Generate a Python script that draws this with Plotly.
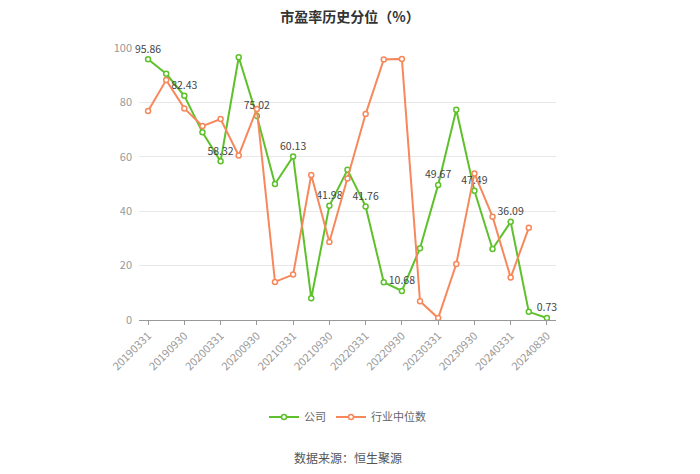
import plotly.graph_objects as go

dates = ["20190331","20190630","20190930","20191231","20200331","20200630","20200930","20201231",
         "20210331","20210630","20210930","20211231","20220331","20220630","20220930","20221231",
         "20230331","20230630","20230930","20231231","20240331","20240630","20240830"]
company = [95.86, 90.5, 82.43, 69.0, 58.32, 96.6, 75.02, 50.0, 60.13, 8.0, 41.98, 55.2, 41.76,
           13.9, 10.68, 26.4, 49.67, 77.3, 47.49, 26.1, 36.09, 3.0, 0.73]
industry = [76.8, 88.2, 77.8, 71.3, 73.9, 60.5, 77.6, 14.0, 16.7, 53.3, 28.7, 52.0, 75.7,
            95.8, 96.0, 6.9, 0.7, 20.6, 53.9, 38.0, 15.6, 33.9, None]
label_idx = list(range(0, 23, 2))
tick_labels = [dates[i] for i in label_idx]

green = "#5ec12b"
orange = "#f6885c"

comp_text = [f"{v:.2f}" if i in label_idx else "" for i, v in enumerate(company)]

fig = go.Figure()
fig.add_trace(go.Scatter(
    x=dates, y=company, name="公司", mode="lines+markers+text",
    line=dict(color=green, width=2),
    marker=dict(symbol="circle", size=5, color="white", line=dict(color=green, width=1.5)),
    text=comp_text, textposition="top center", cliponaxis=False,
    textfont=dict(size=10.5, color="#444"),
))
fig.add_trace(go.Scatter(
    x=dates, y=industry, name="行业中位数", mode="lines+markers",
    line=dict(color=orange, width=2),
    marker=dict(symbol="circle", size=5, color="white", line=dict(color=orange, width=1.5)),
))

fig.update_layout(
    width=700, height=474,
    margin=dict(l=139, r=144, t=48, b=154),
    paper_bgcolor="white", plot_bgcolor="white",
    font=dict(family="Noto Sans CJK SC, sans-serif", size=11, color="#666"),
    title=dict(text="<b>市盈率历史分位（%）</b>", x=0.5, xanchor="center", y=0.975, yanchor="top",
               font=dict(size=14, color="#333")),
    showlegend=True,
    legend=dict(orientation="h", x=0.5, xanchor="center", y=-0.357, yanchor="middle",
                font=dict(size=11, color="#666")),
    xaxis=dict(type="category", range=[-0.5, 22.5], tickmode="array", tickvals=tick_labels,
               ticktext=tick_labels, tickangle=-45, showgrid=False, showline=True,
               linecolor="#999", ticks="outside", ticklen=4, tickcolor="#999",
               tickfont=dict(size=11, color="#999")),
    yaxis=dict(range=[0, 100], tickvals=[0, 20, 40, 60, 80, 100], showgrid=True,
               gridcolor="#e8e8e8", zeroline=False, showline=False, ticklabelstandoff=6,
               tickfont=dict(size=11, color="#999")),
    annotations=[dict(text="数据来源：恒生聚源", x=0.5, y=-0.504, xref="paper", yref="paper",
                      showarrow=False, xanchor="center", yanchor="middle",
                      font=dict(size=12, color="#555"))],
)

fig.write_html("out.html")
